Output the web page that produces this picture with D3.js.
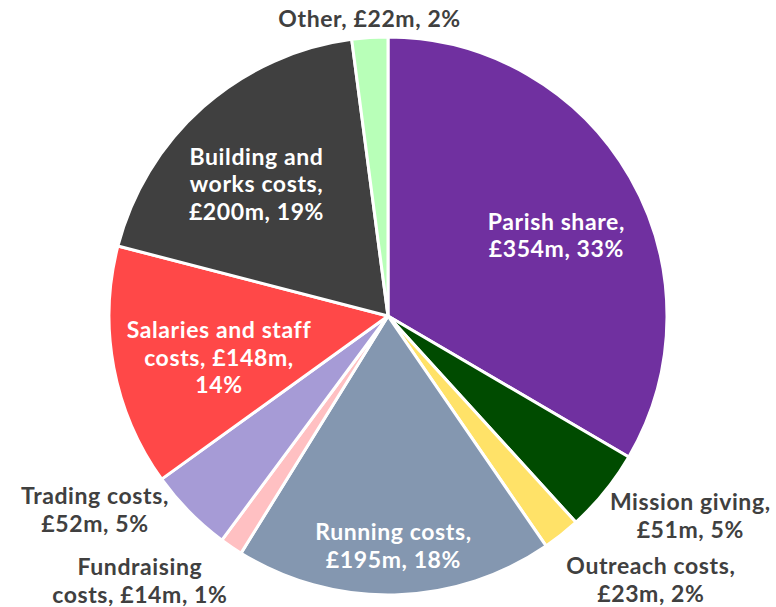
<!DOCTYPE html>
<html>
<head>
<meta charset="utf-8">
<script src="https://cdn.jsdelivr.net/npm/d3@7"></script>
<style>
  body { margin: 0; background: #fff; }
  svg text { font-family: Lato, "Open Sans", sans-serif; font-weight: 700; }
</style>
</head>
<body>
<div id="chart"></div>
<script>
// slices, clockwise from 12 o'clock
const categories = ['Parish share', 'Mission giving', 'Outreach costs', 'Running costs',
  'Fundraising costs', 'Trading costs', 'Salaries and staff costs', 'Building and works costs', 'Other'];
const values = [354, 51, 23, 195, 14, 52, 148, 200, 22];
const percents = [33, 5, 2, 18, 1, 5, 14, 19, 2];
const colors = ['#7030A0', '#004B00', '#FFE268', '#8497B0', '#FFC0C2', '#A69BD6', '#FF4848', '#404040', '#B8FFB8'];

// how each label is broken into lines
const labelLines = [
  ['Parish share,', '£354m, 33%'],
  ['Mission giving,', '£51m, 5%'],
  ['Outreach costs,', '£23m, 2%'],
  ['Running costs,', '£195m, 18%'],
  ['Fundraising', 'costs, £14m, 1%'],
  ['Trading costs,', '£52m, 5%'],
  ['Salaries and staff', 'costs, £148m,', '14%'],
  ['Building and', 'works costs,', '£200m, 19%'],
  ['Other, £22m, 2%']
];

const width = 776, height = 607;
const cx = 388, cy = 316, radius = 279;
const lineH = 27.5;

// label placement: radius of the anchor along the slice middle, plus a nudge
const labelLayout = [
  { r: 186, dx: 7, dy: 12, inside: true },
  { r: 362, dx: 21, dy: -28 },
  { r: 370, dx: 33, dy: -26 },
  { r: 229, dx: 0, dy: 1, inside: true },
  { r: 360, dx: -46, dy: -33 },
  { r: 340, dx: -51, dy: -45 },
  { r: 172, dx: 0, dy: 10, inside: true },
  { r: 188, dx: -7, dy: 9, inside: true },
  { r: 298, dx: 1, dy: 0 }
];

const data = categories.map((c, i) => ({ name: c, value: values[i], pct: percents[i], i }));

const svg = d3.select('#chart').append('svg')
  .attr('width', width).attr('height', height);

const g = svg.append('g').attr('transform', `translate(${cx},${cy})`);

const pie = d3.pie().value(d => d.value).sort(null);
const arcs = pie(data);
const arc = d3.arc().innerRadius(0).outerRadius(radius);

g.selectAll('path')
  .data(arcs)
  .enter().append('path')
  .attr('d', arc)
  .attr('fill', d => colors[d.data.i])
  .attr('stroke', '#fff')
  .attr('stroke-width', 3)
  .attr('stroke-linejoin', 'round');

const labels = g.selectAll('text.lbl')
  .data(arcs)
  .enter().append('text')
  .attr('class', 'lbl')
  .attr('text-anchor', 'middle')
  .attr('font-size', 23)
  .attr('letter-spacing', 0.6)
  .attr('fill', d => labelLayout[d.data.i].inside ? '#fff' : '#404040')
  .attr('transform', d => {
    const L = labelLayout[d.data.i];
    const a = (d.startAngle + d.endAngle) / 2;
    const x = Math.sin(a) * L.r + L.dx;
    const y = -Math.cos(a) * L.r + L.dy;
    return `translate(${x},${y})`;
  });

labels.each(function(d) {
  const lines = labelLines[d.data.i];
  const off = -(lines.length - 1) / 2 * lineH;
  d3.select(this).selectAll('tspan')
    .data(lines)
    .enter().append('tspan')
    .attr('x', 0)
    .attr('y', (t, j) => off + j * lineH)
    .attr('dy', '0.35em')
    .text(t => t);
});
</script>
</body>
</html>
